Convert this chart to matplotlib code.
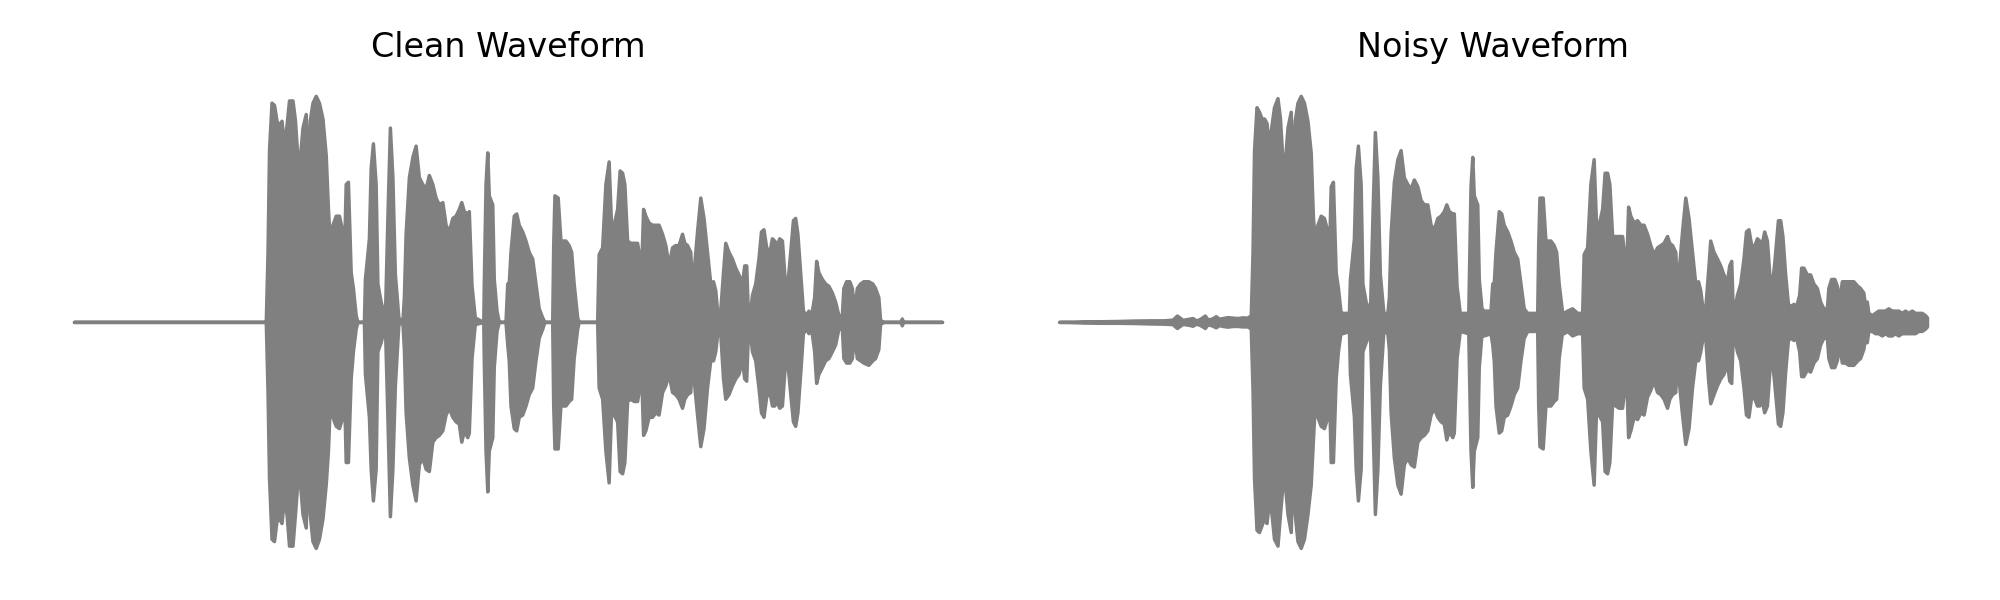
import matplotlib
matplotlib.use('Agg')
import matplotlib.pyplot as plt

# envelope of the clean waveform (seconds, normalised amplitude)
clean_time = [0.000, 0.768, 0.775, 0.781, 0.791, 0.801, 0.811, 0.821, 0.831, 0.841,
              0.851, 0.861, 0.875, 0.885, 0.895, 0.904, 0.915, 0.928, 0.936, 0.944,
              0.955, 0.968, 0.981, 0.995, 1.008, 1.017, 1.024, 1.035, 1.048, 1.061,
              1.075, 1.081, 1.088, 1.097, 1.108, 1.117, 1.128, 1.135, 1.161, 1.165,
              1.181, 1.188, 1.197, 1.208, 1.215, 1.228, 1.245, 1.255, 1.265, 1.275,
              1.285, 1.299, 1.315, 1.321, 1.328, 1.341, 1.355, 1.368, 1.381, 1.395,
              1.408, 1.421, 1.435, 1.448, 1.461, 1.475, 1.488, 1.501, 1.515, 1.528,
              1.541, 1.551, 1.561, 1.575, 1.581, 1.592, 1.605, 1.639, 1.641, 1.648,
              1.655, 1.661, 1.675, 1.681, 1.692, 1.701, 1.728, 1.735, 1.741, 1.748,
              1.761, 1.771, 1.781, 1.795, 1.808, 1.821, 1.835, 1.848, 1.861, 1.875,
              1.884, 1.915, 1.919, 1.924, 1.937, 1.948, 1.968, 1.981, 1.991, 2.001,
              2.015, 2.021, 2.095, 2.101, 2.115, 2.128, 2.141, 2.151, 2.161, 2.175,
              2.185, 2.195, 2.204, 2.215, 2.228, 2.241, 2.255, 2.265, 2.271, 2.279,
              2.288, 2.301, 2.315, 2.328, 2.341, 2.355, 2.368, 2.381, 2.395, 2.408,
              2.421, 2.435, 2.444, 2.455, 2.468, 2.475, 2.481, 2.495, 2.508, 2.521,
              2.535, 2.548, 2.559, 2.568, 2.577, 2.588, 2.599, 2.608, 2.621, 2.635,
              2.648, 2.661, 2.675, 2.684, 2.692, 2.697, 2.705, 2.715, 2.728, 2.741,
              2.751, 2.761, 2.772, 2.785, 2.795, 2.804, 2.815, 2.824, 2.835, 2.844,
              2.852, 2.865, 2.879, 2.888, 2.897, 2.908, 2.919, 2.932, 2.941, 2.952,
              2.964, 2.972, 2.981, 2.995, 3.008, 3.021, 3.035, 3.048, 3.061, 3.075,
              3.081, 3.092, 3.105, 3.115, 3.124, 3.135, 3.148, 3.161, 3.181, 3.197,
              3.208, 3.221, 3.228, 3.241, 3.310, 3.315, 3.320, 3.476]

clean_upper = [0, 0, 0.31, 0.76, 0.97, 0.96, 0.89, 0.87, 0.89, 0.78,
               0.87, 0.98, 0.98, 0.89, 0.72, 0.72, 0.86, 0.92, 0.58, 0.89,
               0.97, 1.00, 0.97, 0.90, 0.74, 0.50, 0.36, 0.43, 0.47, 0.47,
               0.40, 0.28, 0.61, 0.62, 0.22, 0.15, 0.03, 0, 0, 0.19,
               0.37, 0.68, 0.79, 0.61, 0.17, 0.09, 0.02, 0.46, 0.86, 0.64,
               0.21, 0.02, 0, 0.11, 0.39, 0.64, 0.73, 0.78, 0.64, 0.61,
               0.59, 0.65, 0.61, 0.55, 0.52, 0.53, 0.43, 0.40, 0.46, 0.47,
               0.50, 0.53, 0.49, 0.48, 0.49, 0.16, 0.02, 0, 0.17, 0.61,
               0.75, 0.56, 0.52, 0.19, 0.05, 0, 0, 0.17, 0.17, 0.31,
               0.47, 0.48, 0.43, 0.40, 0.36, 0.31, 0.28, 0.17, 0.06, 0.02,
               0, 0, 0.34, 0.56, 0.55, 0.36, 0.36, 0.34, 0.31, 0.17,
               0.02, 0, 0, 0.30, 0.33, 0.61, 0.71, 0.42, 0.43, 0.50,
               0.67, 0.66, 0.61, 0.36, 0.35, 0.35, 0.35, 0.28, 0.22, 0.50,
               0.47, 0.44, 0.43, 0.43, 0.43, 0.39, 0.34, 0.25, 0.33, 0.34,
               0.34, 0.39, 0.35, 0.34, 0.31, 0.14, 0.22, 0.40, 0.55, 0.46,
               0.31, 0.17, 0.18, 0.14, 0.03, 0.05, 0.22, 0.35, 0.31, 0.28,
               0.24, 0.21, 0.17, 0.25, 0.25, 0.09, 0.02, 0.12, 0.17, 0.28,
               0.40, 0.41, 0.33, 0.31, 0.37, 0.36, 0.34, 0.37, 0.36, 0.22,
               0.11, 0.27, 0.45, 0.46, 0.39, 0.22, 0.05, 0.03, 0.05, 0.03,
               0.11, 0.27, 0.22, 0.19, 0.17, 0.16, 0.13, 0.09, 0.03, 0.03,
               0.15, 0.18, 0.18, 0.15, 0.05, 0.15, 0.17, 0.18, 0.18, 0.17,
               0.15, 0.11, 0.01, 0, 0, 0.015, 0, 0]

clean_lower = [0, 0, -0.31, -0.69, -0.96, -0.97, -0.88, -0.87, -0.89, -0.78,
               -0.85, -0.99, -0.99, -0.85, -0.70, -0.70, -0.85, -0.91, -0.57, -0.85,
               -0.97, -1.00, -0.96, -0.87, -0.72, -0.57, -0.37, -0.42, -0.46, -0.47,
               -0.42, -0.28, -0.62, -0.62, -0.25, -0.13, -0.03, 0, 0, -0.23,
               -0.42, -0.65, -0.79, -0.65, -0.13, -0.09, -0.01, -0.42, -0.86, -0.65,
               -0.28, -0.01, 0, -0.12, -0.40, -0.60, -0.72, -0.79, -0.63, -0.60,
               -0.65, -0.66, -0.53, -0.51, -0.50, -0.48, -0.41, -0.38, -0.42, -0.44,
               -0.45, -0.53, -0.48, -0.51, -0.49, -0.16, -0.01, 0, -0.17, -0.57,
               -0.75, -0.57, -0.51, -0.20, -0.04, 0, 0, -0.10, -0.17, -0.37,
               -0.47, -0.48, -0.42, -0.41, -0.37, -0.32, -0.29, -0.17, -0.07, -0.03,
               0, 0, -0.37, -0.56, -0.56, -0.37, -0.37, -0.35, -0.34, -0.16,
               -0.03, 0, 0, -0.29, -0.34, -0.57, -0.71, -0.38, -0.41, -0.44,
               -0.66, -0.67, -0.62, -0.35, -0.34, -0.35, -0.35, -0.28, -0.22, -0.50,
               -0.48, -0.42, -0.42, -0.40, -0.41, -0.31, -0.28, -0.23, -0.31, -0.32,
               -0.34, -0.38, -0.34, -0.32, -0.31, -0.13, -0.25, -0.41, -0.55, -0.47,
               -0.29, -0.17, -0.17, -0.13, -0.04, -0.05, -0.25, -0.34, -0.32, -0.28,
               -0.25, -0.23, -0.17, -0.25, -0.26, -0.10, -0.03, -0.13, -0.17, -0.29,
               -0.40, -0.42, -0.33, -0.31, -0.37, -0.37, -0.35, -0.38, -0.37, -0.23,
               -0.12, -0.28, -0.44, -0.46, -0.40, -0.23, -0.05, -0.03, -0.05, -0.03,
               -0.13, -0.27, -0.23, -0.20, -0.17, -0.16, -0.13, -0.10, -0.03, -0.03,
               -0.16, -0.18, -0.18, -0.16, -0.06, -0.16, -0.17, -0.18, -0.19, -0.17,
               -0.16, -0.12, -0.01, 0, 0, -0.015, 0, 0]

# envelope of the noisy waveform
noisy_time = [0.000, 0.048, 0.101, 0.168, 0.235, 0.301, 0.368, 0.421, 0.455, 0.472,
              0.481, 0.495, 0.515, 0.535, 0.548, 0.561, 0.575, 0.584, 0.595, 0.611,
              0.628, 0.641, 0.655, 0.675, 0.695, 0.715, 0.735, 0.755,
              0.768, 0.775, 0.781, 0.791, 0.801, 0.811, 0.821, 0.831, 0.841, 0.851,
              0.861, 0.875, 0.885, 0.895, 0.904, 0.915, 0.928, 0.936, 0.944, 0.955,
              0.968, 0.981, 0.995, 1.008, 1.017, 1.024, 1.035, 1.048, 1.061, 1.075,
              1.081, 1.088, 1.097, 1.108, 1.117, 1.128, 1.135, 1.161, 1.165, 1.181,
              1.188, 1.197, 1.208, 1.215, 1.228, 1.245, 1.255, 1.265, 1.275, 1.285,
              1.299, 1.315, 1.321, 1.328, 1.341, 1.355, 1.368, 1.381, 1.395, 1.408,
              1.421, 1.435, 1.448, 1.461, 1.475, 1.488, 1.501, 1.515, 1.528, 1.541,
              1.551, 1.561, 1.575, 1.581, 1.592, 1.605, 1.639, 1.641, 1.648, 1.655,
              1.661, 1.675, 1.681, 1.692, 1.701, 1.728, 1.735, 1.741, 1.748, 1.761,
              1.771, 1.781, 1.795, 1.808, 1.821, 1.835, 1.848, 1.861, 1.875, 1.884,
              1.915, 1.919, 1.924, 1.937, 1.948, 1.968, 1.981, 1.991, 2.001, 2.015,
              2.021, 2.035, 2.055, 2.075, 2.095, 2.101, 2.115, 2.128, 2.141, 2.151,
              2.161, 2.175, 2.185, 2.195, 2.204, 2.215, 2.228, 2.241, 2.255, 2.265,
              2.271, 2.279, 2.288, 2.301, 2.315, 2.328, 2.341, 2.355, 2.368, 2.381,
              2.395, 2.408, 2.421, 2.435, 2.444, 2.455, 2.468, 2.475, 2.481, 2.495,
              2.508, 2.521, 2.535, 2.548, 2.559, 2.568, 2.577, 2.588, 2.599, 2.608,
              2.621, 2.635, 2.648, 2.661, 2.675, 2.684, 2.692, 2.697, 2.705, 2.715,
              2.728, 2.741, 2.751, 2.761, 2.772, 2.785, 2.795, 2.804, 2.815, 2.824,
              2.835, 2.844, 2.852, 2.865, 2.879, 2.888, 2.897, 2.908, 2.919, 2.932,
              2.941, 2.952, 2.964, 2.972, 2.981, 2.995, 3.008, 3.021, 3.035, 3.048,
              3.061, 3.075, 3.081, 3.092, 3.105, 3.115, 3.124, 3.135, 3.148, 3.161,
              3.181, 3.197, 3.208, 3.221, 3.228, 3.235, 3.241, 3.255, 3.268, 3.281,
              3.295, 3.308, 3.321, 3.335, 3.348, 3.361, 3.375, 3.388, 3.401, 3.415,
              3.428, 3.441, 3.455, 3.468, 3.476]

noisy_upper = [0.000, 0.001, 0.003, 0.003, 0.004, 0.006, 0.007, 0.007, 0.010, 0.028,
               0.021, 0.009, 0.013, 0.017, 0.007, 0.011, 0.021, 0.028, 0.011, 0.014,
               0.025, 0.014, 0.017, 0.021, 0.019, 0.017, 0.020, 0.019,
               0.03, 0.31, 0.76, 0.95, 0.93, 0.90, 0.90, 0.88, 0.78, 0.87,
               0.95, 0.99, 0.90, 0.71, 0.70, 0.86, 0.93, 0.56, 0.89, 0.97,
               1.00, 0.97, 0.89, 0.75, 0.46, 0.37, 0.43, 0.47, 0.46, 0.40,
               0.28, 0.60, 0.62, 0.22, 0.15, 0.04, 0.04, 0.04, 0.19, 0.37,
               0.68, 0.78, 0.61, 0.17, 0.09, 0.04, 0.46, 0.84, 0.64, 0.21,
               0.04, 0.04, 0.11, 0.39, 0.62, 0.72, 0.76, 0.64, 0.61, 0.59,
               0.63, 0.60, 0.54, 0.52, 0.52, 0.43, 0.41, 0.46, 0.47, 0.49,
               0.52, 0.49, 0.48, 0.48, 0.16, 0.04, 0.04, 0.17, 0.60, 0.73,
               0.56, 0.52, 0.19, 0.06, 0.05, 0.05, 0.17, 0.17, 0.31, 0.49,
               0.48, 0.43, 0.40, 0.36, 0.31, 0.28, 0.17, 0.06, 0.04, 0.04,
               0.04, 0.34, 0.55, 0.55, 0.36, 0.36, 0.34, 0.31, 0.17, 0.04,
               0.04, 0.05, 0.06, 0.04, 0.04, 0.30, 0.33, 0.61, 0.72, 0.42,
               0.43, 0.50, 0.66, 0.66, 0.61, 0.38, 0.38, 0.38, 0.38, 0.28,
               0.22, 0.51, 0.47, 0.44, 0.45, 0.43, 0.43, 0.39, 0.34, 0.30,
               0.33, 0.34, 0.35, 0.38, 0.35, 0.34, 0.31, 0.14, 0.22, 0.40,
               0.55, 0.46, 0.31, 0.17, 0.18, 0.14, 0.06, 0.06, 0.22, 0.36,
               0.31, 0.28, 0.25, 0.21, 0.18, 0.25, 0.27, 0.09, 0.06, 0.12,
               0.17, 0.28, 0.40, 0.41, 0.34, 0.34, 0.37, 0.36, 0.35, 0.40,
               0.36, 0.22, 0.13, 0.27, 0.45, 0.45, 0.38, 0.21, 0.08, 0.07,
               0.08, 0.07, 0.12, 0.24, 0.24, 0.21, 0.21, 0.17, 0.15, 0.09,
               0.06, 0.06, 0.15, 0.19, 0.19, 0.16, 0.09, 0.18, 0.18, 0.18,
               0.18, 0.16, 0.15, 0.13, 0.07, 0.09, 0.04, 0.03, 0.04, 0.05,
               0.05, 0.05, 0.06, 0.05, 0.05, 0.05, 0.04, 0.05, 0.04, 0.05,
               0.04, 0.04, 0.04, 0.03, 0.02]

noisy_lower = [0.000, -0.001, -0.003, -0.004, -0.004, -0.005, -0.007, -0.008, -0.010, -0.027,
               -0.020, -0.009, -0.012, -0.017, -0.008, -0.012, -0.020, -0.027, -0.011, -0.015,
               -0.024, -0.014, -0.018, -0.021, -0.018, -0.018, -0.020, -0.020,
               -0.03, -0.30, -0.69, -0.92, -0.93, -0.90, -0.87, -0.89, -0.79, -0.85,
               -0.96, -0.99, -0.85, -0.72, -0.71, -0.85, -0.93, -0.57, -0.85, -0.97,
               -1.00, -0.96, -0.85, -0.72, -0.52, -0.37, -0.42, -0.46, -0.47, -0.42,
               -0.28, -0.62, -0.62, -0.25, -0.13, -0.04, -0.05, -0.04, -0.23, -0.42,
               -0.65, -0.79, -0.65, -0.13, -0.09, -0.04, -0.42, -0.85, -0.65, -0.28,
               -0.04, -0.05, -0.12, -0.40, -0.60, -0.72, -0.76, -0.63, -0.60, -0.63,
               -0.64, -0.53, -0.51, -0.50, -0.48, -0.41, -0.38, -0.42, -0.44, -0.45,
               -0.52, -0.48, -0.51, -0.49, -0.16, -0.04, -0.05, -0.17, -0.57, -0.73,
               -0.57, -0.51, -0.20, -0.05, -0.06, -0.05, -0.10, -0.17, -0.37, -0.49,
               -0.48, -0.42, -0.41, -0.37, -0.32, -0.29, -0.17, -0.07, -0.04, -0.04,
               -0.04, -0.37, -0.55, -0.56, -0.37, -0.37, -0.35, -0.34, -0.16, -0.04,
               -0.05, -0.04, -0.06, -0.05, -0.05, -0.29, -0.34, -0.57, -0.72, -0.38,
               -0.41, -0.44, -0.66, -0.67, -0.62, -0.36, -0.37, -0.38, -0.38, -0.28,
               -0.22, -0.51, -0.48, -0.42, -0.43, -0.40, -0.41, -0.33, -0.30, -0.26,
               -0.31, -0.32, -0.34, -0.38, -0.34, -0.32, -0.31, -0.13, -0.25, -0.41,
               -0.54, -0.47, -0.29, -0.17, -0.17, -0.13, -0.07, -0.07, -0.25, -0.36,
               -0.32, -0.28, -0.25, -0.23, -0.18, -0.26, -0.27, -0.10, -0.07, -0.13,
               -0.17, -0.29, -0.41, -0.42, -0.33, -0.34, -0.37, -0.37, -0.35, -0.40,
               -0.37, -0.23, -0.13, -0.28, -0.45, -0.46, -0.40, -0.22, -0.08, -0.07,
               -0.08, -0.07, -0.13, -0.24, -0.24, -0.21, -0.22, -0.18, -0.16, -0.10,
               -0.07, -0.07, -0.16, -0.20, -0.20, -0.17, -0.10, -0.18, -0.18, -0.19,
               -0.19, -0.17, -0.16, -0.12, -0.07, -0.09, -0.04, -0.04, -0.05, -0.05,
               -0.06, -0.05, -0.06, -0.06, -0.05, -0.06, -0.05, -0.05, -0.05, -0.05,
               -0.05, -0.04, -0.04, -0.03, -0.02]

titles = ['Clean Waveform', 'Noisy Waveform']


fig = plt.figure(figsize=(20, 6), dpi=100)
ax_clean = fig.add_axes([0.037, 0.068, 0.434, 0.791])
ax_noisy = fig.add_axes([0.5295, 0.068, 0.434, 0.791])

panels = [(ax_clean, clean_time, clean_upper, clean_lower),
          (ax_noisy, noisy_time, noisy_upper, noisy_lower)]

for (ax, t, up, lo), title in zip(panels, titles):
    ax.fill_between(t, up, lo, facecolor='gray', edgecolor='gray',
                    linewidth=2.5, joinstyle='round', capstyle='round',
                    clip_on=False)
    ax.set_xlim(0, max(t))
    ax.set_ylim(-1.05, 1.05)
    ax.set_title(title, fontsize=24, pad=20)
    ax.axis('off')

fig.savefig('out.png', dpi=100)
